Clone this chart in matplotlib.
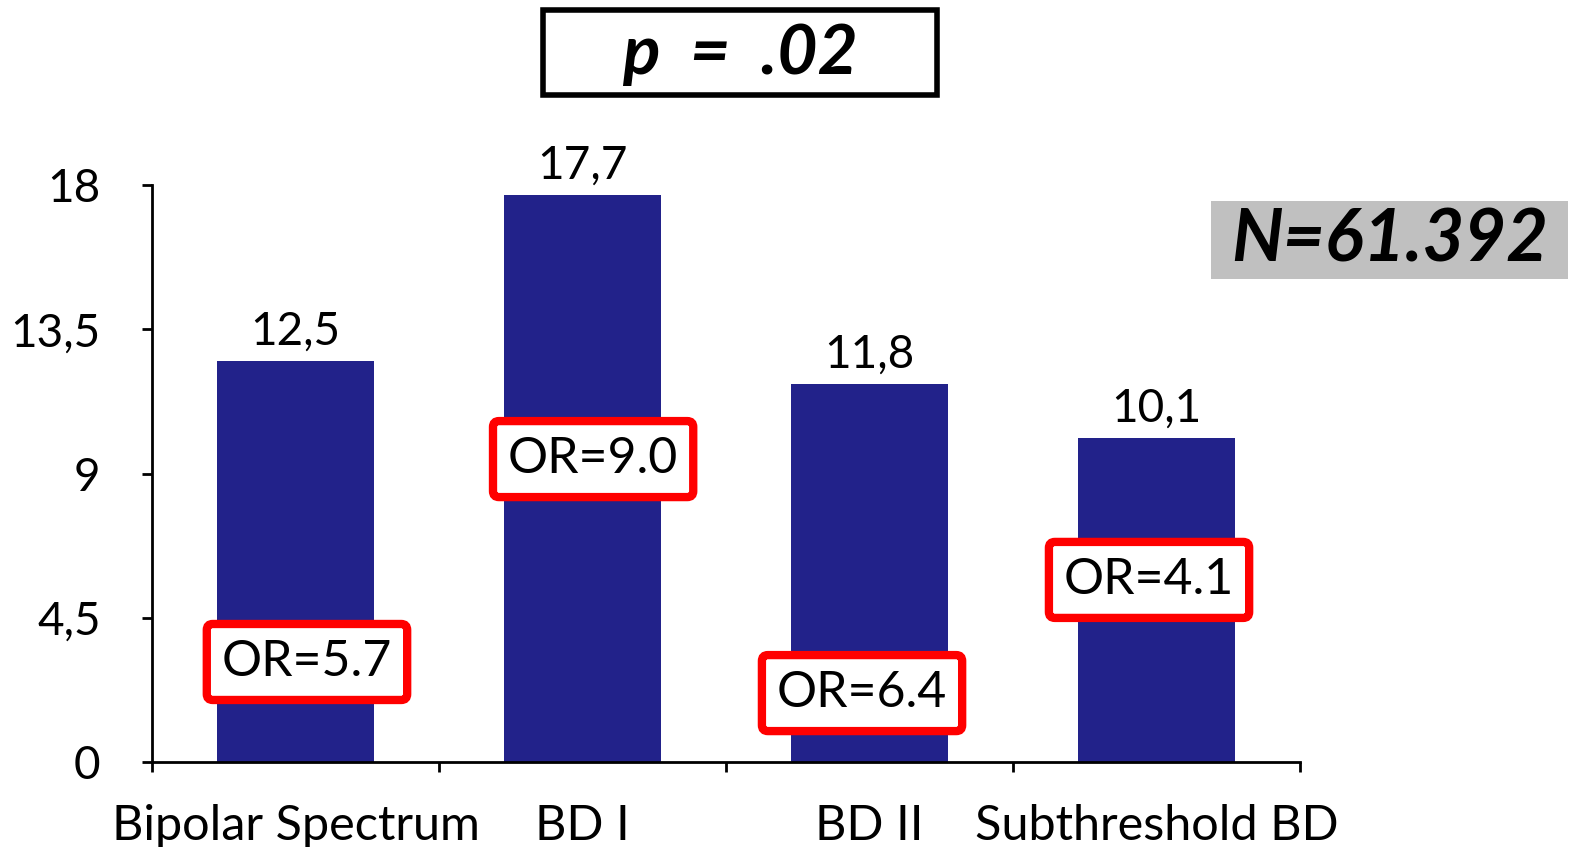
import matplotlib
matplotlib.use("Agg")
import matplotlib.pyplot as plt
from matplotlib.patches import Rectangle

# data
categories = ["Bipolar Spectrum", "BD I", "BD II", "Subthreshold BD"]
values     = [12.5, 17.7, 11.8, 10.1]
or_labels  = ["OR=5.7", "OR=9.0", "OR=6.4", "OR=4.1"]
y_ticks    = [0, 4.5, 9, 13.5, 18]
y_labels   = ["0", "4,5", "9", "13,5", "18"]

# where the OR boxes sit (data coords)
or_pos = [(0.54, 3.12), (1.537, 9.45), (2.474, 2.15), (3.474, 5.68)]

plt.rcParams["font.family"] = ["Lato", "DejaVu Sans"]

fig = plt.figure(figsize=(15.79, 8.47), dpi=100)
ax  = fig.add_axes([152/1579, 85/847, (1300-152)/1579, (762-185)/847])

x = [i + 0.5 for i in range(len(categories))]
ax.bar(x, values, width=0.55, color="#22228A", zorder=2)

ax.set_xlim(0, 4)
ax.set_ylim(0, 18)
ax.set_xticks(range(5))
ax.set_xticklabels([])
ax.set_xticks(x, minor=True)
ax.set_xticklabels(categories, minor=True, fontsize=35)
ax.tick_params(axis="x", which="minor", length=0, pad=30)
ax.tick_params(axis="x", which="major", length=7, width=2, direction="out")
ax.set_yticks(y_ticks)
ax.set_yticklabels(y_labels, fontsize=33)
ax.tick_params(axis="y", length=7, width=2, pad=30)

for s in ["top", "right"]:
    ax.spines[s].set_visible(False)
for s in ["left", "bottom"]:
    ax.spines[s].set_linewidth(2)

for xi, v in zip(x, values):
    ax.annotate(f"{v:.1f}".replace(".", ","), (xi, v), xytext=(0, 6),
                textcoords="offset points", ha="center", va="bottom",
                fontsize=33)

for (px, py), lab in zip(or_pos, or_labels):
    ax.text(px, py, lab, ha="center", va="center", fontsize=36, zorder=5,
            bbox=dict(boxstyle="round,pad=0.3,rounding_size=0.12",
                      fc="white", ec="#FF0000", lw=6))

# p-value box
fig.patches.append(Rectangle((543/1579, 1 - 95/847), 394/1579, 85/847,
                             transform=fig.transFigure, fill=False,
                             ec="black", lw=4))
fig.text(740/1579, 1 - 55/847, "p  =  .02", ha="center", va="center",
         fontsize=50, fontweight="bold", fontstyle="italic")

# N box
fig.patches.append(Rectangle((1211/1579, 1 - 279/847), 357/1579, 78/847,
                             transform=fig.transFigure, fc="#C0C0C0",
                             ec="none"))
fig.text(1390/1579, 1 - 241/847, "N=61.392", ha="center", va="center",
         fontsize=52, fontweight="bold", fontstyle="italic")

fig.savefig("out.png", dpi=100)
